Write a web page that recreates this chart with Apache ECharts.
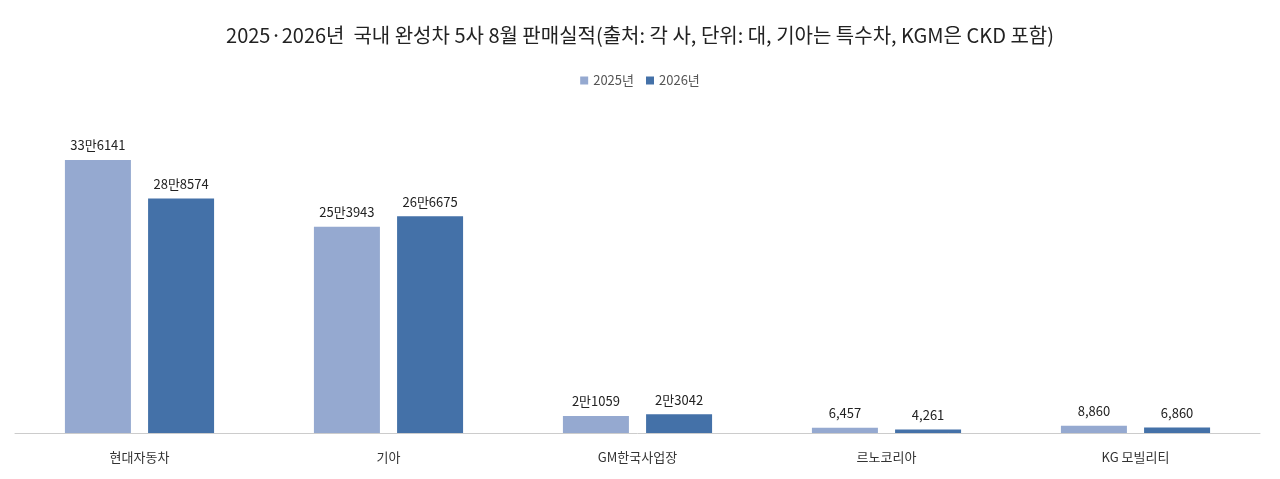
<!DOCTYPE html>
<html><head><meta charset="utf-8">
<script src="https://cdn.jsdelivr.net/npm/echarts@6/dist/echarts.min.js"></script>
<style>html,body{margin:0;padding:0;background:#fff}#c{width:1280px;height:479px}</style>
</head><body><div id="c"></div>
<script>
const categories = ['현대자동차','기아','GM한국사업장','르노코리아','KG 모빌리티'];
const seriesNames = ['2025년','2026년'];
const values2025 = [336141, 253943, 21059, 6457, 8860];
const values2026 = [288574, 266675, 23042, 4261, 6860];
function fmt(v){
  if (v >= 10000) { return Math.floor(v/10000) + '만' + (v % 10000); }
  return v.toLocaleString('en-US');
}
const font = '"Noto Sans CJK KR", "Noto Sans", sans-serif';
const chart = echarts.init(document.getElementById('c'));
chart.setOption({
  animation:false,
  title:{text:'2025·2026년  국내 완성차 5사 8월 판매실적(출처: 각 사, 단위: 대, 기아는 특수차, KGM은 CKD 포함)',left:'center',top:20,
    textStyle:{fontFamily:font,fontSize:20,fontWeight:'normal',color:'#222'}},
  legend:{top:69,itemWidth:8,itemHeight:8,itemGap:12,icon:'rect',textStyle:{fontFamily:font,fontSize:13,color:'#555'}},
  grid:{left:15,right:20,top:108,bottom:46},
  xAxis:{type:'category',data:categories,axisTick:{show:false},axisLine:{lineStyle:{color:'#ccc'}},
    axisLabel:{fontFamily:font,fontSize:13,color:'#333',margin:18}},
  yAxis:{type:'value',min:0,max:400000,show:false,splitLine:{show:false}},
  series:[
    {name:seriesNames[0],type:'bar',data:values2025,barWidth:66,barGap:'26%',itemStyle:{color:'#95A9D0'},
     label:{show:true,position:'top',distance:8,formatter:p=>fmt(p.value),fontFamily:font,fontSize:13,color:'#222'}},
    {name:seriesNames[1],type:'bar',data:values2026,barWidth:66,itemStyle:{color:'#4471A8'},
     label:{show:true,position:'top',distance:8,formatter:p=>fmt(p.value),fontFamily:font,fontSize:13,color:'#222'}}
  ]
});
</script></body></html>
